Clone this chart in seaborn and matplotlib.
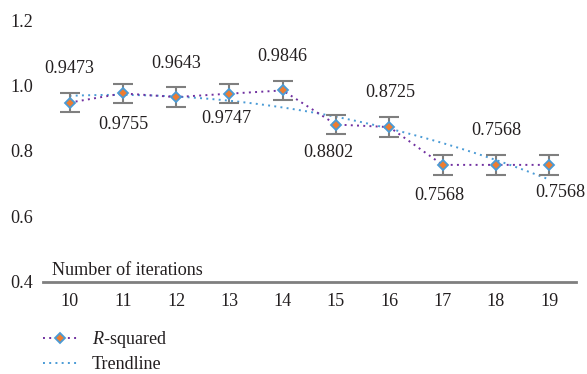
import numpy as np
import pandas as pd
import matplotlib
matplotlib.use("Agg")
import matplotlib.pyplot as plt
from matplotlib.lines import Line2D
import seaborn as sns

# Data
iterations = [10, 11, 12, 13, 14, 15, 16, 17, 18, 19]
r_squared = [0.9473, 0.9755, 0.9643, 0.9747, 0.9846, 0.8802, 0.8725, 0.7568, 0.7568, 0.7568]
errors = [0.03] * 10
value_labels = ["0.9473", "0.9755", "0.9643", "0.9747", "0.9846",
                "0.8802", "0.8725", "0.7568", "0.7568", "0.7568"]
y_ticks = [0.4, 0.6, 0.8, 1.0, 1.2]

# Label placement (pixel offsets from each point)
label_dx = [0, 1, 0, -3, 0, -8, 1, -3, 0, 11]
label_dy = [34, -31, 34, -25, 34, -28, 35, -31, 34, -28]

sns.set_style("white")
plt.rcParams["font.family"] = ["Liberation Serif", "DejaVu Serif"]
plt.rcParams["mathtext.fontset"] = "custom"
plt.rcParams["mathtext.rm"] = "Liberation Serif"
plt.rcParams["mathtext.it"] = "Liberation Serif:italic"

text_color = "#231f20"
purple = "#7030a0"
blue = "#4a9bd6"
orange = "#ed7d31"
gray = "#7f7f7f"
fs = 13.1

df = pd.DataFrame({"iterations": iterations, "r2": r_squared})

fig = plt.figure(figsize=(5.87, 3.74), dpi=100)
ax = fig.add_axes([0.073, 0.2473, 0.908, 0.6992])

# Quadratic trendline fitted to the data
coef = np.polyfit(df["iterations"], df["r2"], 2)
xs = np.linspace(iterations[0], iterations[-1], 200)
ax.plot(xs, np.polyval(coef, xs), color=blue, lw=1.4, linestyle=(0, (1, 2.2)), zorder=2)

# Error bars
ax.errorbar(iterations, r_squared, yerr=errors, fmt="none", ecolor=gray,
            elinewidth=1.5, capsize=7.2, capthick=1.5, zorder=3)

# R-squared series
sns.lineplot(data=df, x="iterations", y="r2", ax=ax, color=purple, lw=1.4,
             linestyle=(0, (1, 2.2)), marker="D", markersize=5.6,
             markerfacecolor=orange, markeredgecolor=blue, markeredgewidth=1.3,
             zorder=4)

for x, y, lab, dx, dy in zip(iterations, r_squared, value_labels, label_dx, label_dy):
    ax.annotate(lab, (x, y), xytext=(dx, dy), textcoords="offset pixels",
                ha="center", va="center", fontsize=fs, color=text_color)

ax.set_xlim(9.5, 19.5)
ax.set_ylim(0.4, 1.2)
ax.set_xticks(iterations)
ax.set_xticklabels([str(i) for i in iterations])
ax.set_yticks(y_ticks)
ax.set_yticklabels([f"{t:.1f}" for t in y_ticks])
ax.tick_params(axis="both", length=0, labelsize=fs, colors=text_color)
ax.tick_params(axis="y", pad=7)
ax.tick_params(axis="x", pad=8)
ax.set_xlabel("")
ax.set_ylabel("")
for side in ["top", "right", "left"]:
    ax.spines[side].set_visible(False)
ax.spines["bottom"].set_color(gray)
ax.spines["bottom"].set_linewidth(2)

ax.text(0.017, 0.025, "Number of iterations", transform=ax.transAxes,
        ha="left", va="baseline", fontsize=fs, color=text_color)

handles = [
    Line2D([0], [0], color=purple, lw=1.4, linestyle=(0, (1, 2.2)), marker="D",
           markersize=5.6, markerfacecolor=orange, markeredgecolor=blue,
           markeredgewidth=1.3),
    Line2D([0], [0], color=blue, lw=1.4, linestyle=(0, (1, 2.2))),
]
leg = fig.legend(handles, ["$R$-squared", "Trendline"], loc="upper left",
                 bbox_to_anchor=(43 / 587, 1 - 329 / 374), frameon=False,
                 fontsize=fs, handlelength=1.9, handletextpad=0.8,
                 borderpad=0, borderaxespad=0, labelspacing=0.35, numpoints=1)
for t in leg.get_texts():
    t.set_color(text_color)

fig.savefig("out.png", dpi=100)
